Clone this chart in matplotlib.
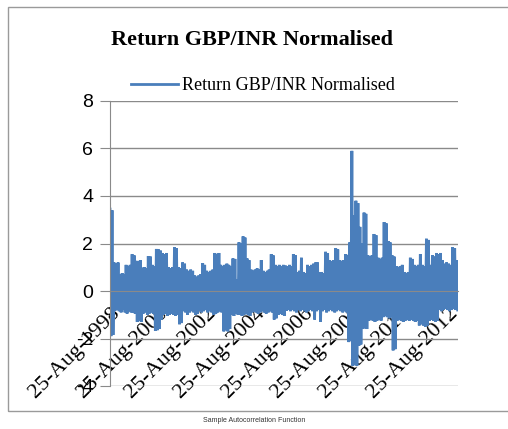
import numpy as np
import pandas as pd
import matplotlib
matplotlib.use("Agg")
import matplotlib.pyplot as plt
import matplotlib.transforms as mtransforms
from matplotlib.patches import Rectangle

# monthly high / low of the normalised GBP/INR return, Aug-1998 .. Dec-2012
monthly_high = [
    3.45, 3.40, 1.20, 1.15, 1.20, 0.70, 0.75, 0.70, 1.10, 1.05,
    1.10, 1.55, 1.50, 1.27, 1.25, 1.30, 0.98, 1.00, 0.95, 1.47,
    1.45, 1.10, 1.05, 1.77, 1.75, 1.70, 1.60, 1.55, 1.60, 1.00,
    0.95, 1.00, 1.85, 1.80, 1.00, 0.95, 1.20, 1.15, 0.90, 0.85,
    0.90, 0.85, 0.65, 0.60, 0.65, 0.70, 1.17, 1.10, 0.85, 0.80,
    0.85, 0.90, 1.60, 1.55, 1.60, 1.10, 1.05, 1.10, 1.15, 1.10,
    1.05, 1.37, 1.35, 0.50, 2.05, 2.00, 2.30, 2.25, 1.37, 1.30,
    0.90, 0.85, 0.90, 0.95, 0.90, 1.30, 0.85, 0.80, 0.85, 0.90,
    1.55, 1.50, 1.10, 1.05, 1.10, 1.05, 1.10, 1.07, 1.05, 1.10,
    1.05, 1.55, 1.50, 0.80, 0.85, 1.40, 0.80, 0.75, 1.10, 1.05,
    1.10, 1.15, 1.20, 1.20, 0.78, 0.80, 0.75, 1.65, 1.60, 1.30,
    1.25, 1.30, 1.80, 1.75, 1.30, 1.25, 1.30, 1.55, 1.50, 2.05,
    5.90, 3.17, 3.80, 3.70, 2.70, 2.00, 3.30, 3.25, 1.50, 1.45,
    1.50, 2.40, 2.35, 1.40, 1.35, 1.40, 2.90, 2.85, 2.10, 2.05,
    1.50, 1.45, 1.05, 1.00, 1.05, 1.10, 0.80, 0.75, 0.80, 1.40,
    1.35, 1.10, 1.05, 1.10, 1.55, 1.10, 1.05, 2.20, 2.15, 1.10,
    1.50, 1.45, 1.60, 1.55, 1.60, 1.30, 1.15, 1.20, 1.15, 1.10,
    1.85, 1.80, 1.30,
]
monthly_low = [
    -1.90, -1.85, -0.83, -0.80, -0.85, -0.90, -0.80, -0.90, -0.95, -0.85,
    -0.90, -0.90, -0.95, -1.30, -1.25, -1.30, -0.95, -0.90, -1.00, -0.95,
    -0.90, -0.95, -1.68, -1.65, -1.60, -1.20, -1.00, -0.95, -1.05, -1.00,
    -0.95, -1.00, -1.05, -1.00, -1.40, -1.35, -0.85, -0.90, -1.00, -0.90,
    -0.85, -0.90, -1.00, -0.95, -0.85, -0.90, -0.85, -0.80, -0.90, -0.85,
    -0.90, -1.00, -0.95, -0.90, -0.85, -0.90, -1.70, -1.65, -1.70, -1.60,
    -1.00, -1.05, -0.95, -1.00, -1.00, -1.05, -1.00, -0.95, -1.00, -1.05,
    -0.90, -0.85, -0.90, -0.95, -0.90, -0.85, -0.90, -0.95, -0.90, -0.85,
    -0.90, -1.20, -1.15, -1.00, -0.95, -1.00, -1.05, -0.83, -0.80, -0.85,
    -0.80, -0.85, -0.90, -0.80, -0.85, -0.80, -0.85, -0.90, -0.85, -0.80,
    -0.85, -1.20, -0.85, -0.80, -1.30, -0.85, -0.80, -0.90, -0.85, -0.80,
    -0.85, -0.90, -0.85, -0.80, -0.85, -0.90, -0.85, -0.90, -2.15, -2.10,
    -3.15, -3.10, -3.15, -2.30, -2.25, -1.60, -1.55, -1.60, -1.25, -1.20,
    -1.25, -1.30, -1.25, -1.20, -1.25, -1.10, -1.05, -1.10, -1.15, -1.10,
    -2.50, -2.45, -1.25, -1.20, -1.25, -1.30, -1.25, -1.20, -1.25, -1.20,
    -1.25, -1.30, -1.25, -1.45, -1.40, -1.45, -1.50, -1.45, -1.25, -1.20,
    -1.25, -1.30, -1.25, -0.80, -0.85, -0.80, -0.75, -0.80, -0.85, -0.80,
    -0.75, -0.80, -0.80,
]
y_ticks = [-4, -2, 0, 2, 4, 6, 8]
label_years = [1998, 2000, 2002, 2004, 2006, 2008, 2010, 2012]

months = pd.date_range("1998-08-25", periods=len(monthly_high),
                       freq=pd.DateOffset(months=1))
# alternate each month's high and low so the line swings like the daily series
dates = np.empty(2 * len(months), dtype="datetime64[ns]")
dates[0::2] = months.values
dates[1::2] = (months + pd.Timedelta(days=15)).values
values = np.empty(2 * len(months))
values[0::2] = monthly_high
values[1::2] = monthly_low

W, H = 508, 429
fig = plt.figure(figsize=(W / 100, H / 100), dpi=100)
ax = fig.add_axes([110 / W, 1 - 386 / H, 348 / W, 285 / H])

blue = "#4A7EBB"
grid_col = "#8a8a8a"

# category axis crosses at zero, so the date labels hang below the 0 line
ax.spines["bottom"].set_position(("data", 0))
ax.spines["bottom"].set_color(grid_col)
for s in ("top", "right"):
    ax.spines[s].set_visible(False)
ax.spines["left"].set_color(grid_col)

ax.plot(dates, values, color=blue, lw=2.0, label="Return GBP/INR Normalised",
        solid_joinstyle="miter")

ax.set_ylim(-4, 8)
ax.set_yticks(y_ticks)
ax.set_yticklabels([str(t) for t in y_ticks], fontsize=14,
                   fontfamily="Liberation Sans")
ax.set_xlim(months[0], months[-1] + pd.Timedelta(days=20))

ticks = [pd.Timestamp(f"{y}-08-25") for y in label_years]
ax.set_xticks(ticks)
ax.set_xticklabels([f"25-Aug-{y}" for y in label_years], rotation=45,
                   ha="right", va="top", rotation_mode="anchor",
                   fontsize=16, fontfamily="Liberation Serif")
shift = mtransforms.ScaledTranslation(-5 / 100, 0, fig.dpi_scale_trans)
for lbl in ax.get_xticklabels():
    lbl.set_transform(lbl.get_transform() + shift)

ax.yaxis.grid(True, color=grid_col, lw=1)
ax.set_axisbelow(True)
ax.tick_params(axis="y", length=7, color=grid_col, pad=5)
ax.tick_params(axis="x", length=0, pad=9)

fig.text(252 / W, 1 - 40 / H, "Return GBP/INR Normalised", ha="center",
         va="center", fontsize=16, fontweight="bold",
         fontfamily="Liberation Serif")
fig.legend(loc="center", bbox_to_anchor=(263 / W, 1 - 86 / H), frameon=False,
           prop={"family": "Liberation Serif", "size": 13},
           handlelength=2.6, handletextpad=0.2)

# chart area border
fig.add_artist(Rectangle((8 / W, 1 - 411 / H), 1.1, 404 / H,
                         transform=fig.transFigure, fill=False,
                         edgecolor="#9a9a9a", lw=1))

fig.text(254 / W, 1 - 421 / H, "Sample Autocorrelation Function",
         ha="center", va="center", fontsize=5, color="#333333",
         fontfamily="Liberation Sans")

fig.savefig("out.png", dpi=100)
